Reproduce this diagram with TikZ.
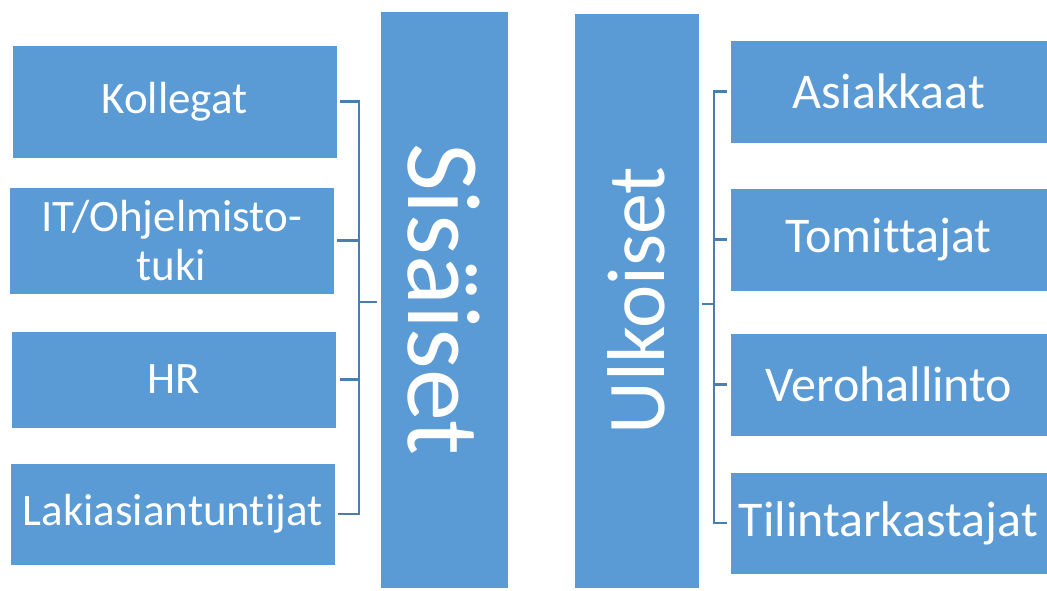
\documentclass[tikz,border=0pt]{standalone}
\usepackage{fontspec}
\setmainfont[Ligatures={NoCommon}]{Carlito}
\definecolor{boxblue}{HTML}{5B9BD5}
\definecolor{linkblue}{HTML}{4A7EB0}
\begin{document}
\begin{tikzpicture}[x=1pt,y=-1pt,
  box/.style={fill=boxblue,draw=white,line width=0.8pt,text=white,inner sep=0pt,align=center},
  lbox/.style={box,minimum width=325pt,font=\fontsize{45}{49}\selectfont},
  rbox/.style={box,minimum width=317pt,minimum height=103pt,font=\fontsize{50}{56}\selectfont},
  conn/.style={draw=linkblue,line width=2.2pt}]
\useasboundingbox (0,0) rectangle (1047,590);
% left group
\node[lbox,minimum height=113pt] (k1) at (174.5,101.5) {Kollegat};
\node[lbox,minimum height=107pt] (k2) at (171.5,240.5) {IT/Ohjelmisto-\\tuki};
\node[lbox,minimum height=97pt]  (k3) at (174,379.5) {HR};
\node[lbox,minimum height=102pt] (k4) at (172.5,514) {Lakiasiantuntijat};
% central boxes
\node[box,minimum width=128pt,minimum height=577pt] (S) at (444,299.5) {};
\node[rotate=-90,text=white,font=\fontsize{104}{104}\selectfont,inner sep=0pt] (St) at (S.center) {Sisäiset};
\node[box,minimum width=125pt,minimum height=575pt] (U) at (636.5,300.5) {};
\node[rotate=90,text=white,font=\fontsize{82}{82}\selectfont,inner sep=0pt] (Ut) at (U.center) {Ulkoiset};
% right group
\node[rbox] (r1) at (888.5,91.5) {Asiakkaat};
\node[rbox] (r2) at (888.5,239.5) {Tomittajat};
\node[rbox] (r3) at (889,384.5) {Verohallinto};
\node[rbox,minimum height=102pt] (r4) at (888.5,523) {Tilintarkastajat};
% connectors
\coordinate (lb) at (359,302);
\coordinate (rb) at (714,304);
\foreach \n in {k1,k2,k3,k4}{
  \draw[conn] ([xshift=3pt]\n.east) -| (lb);
}
\draw[conn] (lb) -- ([xshift=-3pt]lb -| S.west);
\foreach \n in {r1,r2,r3,r4}{
  \draw[conn] ([xshift=-3pt]\n.west) -| (rb);
}
\draw[conn] ([xshift=3pt]rb -| U.east) -- (rb);
\end{tikzpicture}
\end{document}
